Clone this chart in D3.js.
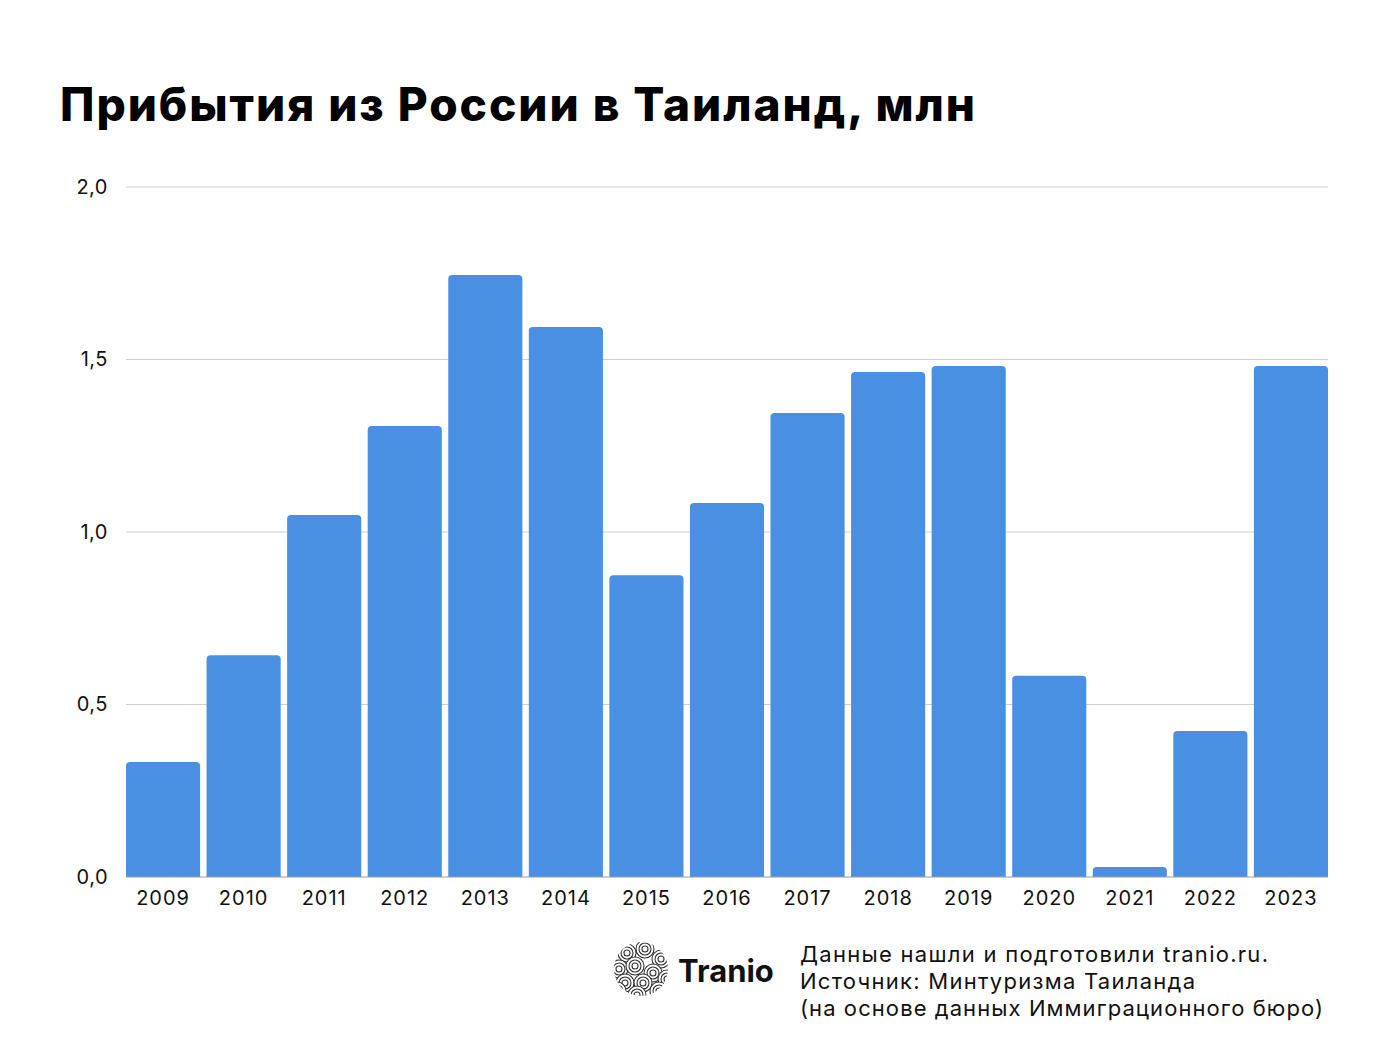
<!DOCTYPE html>
<html>
<head>
<meta charset="utf-8">
<script src="https://cdn.jsdelivr.net/npm/d3@7"></script>
<style>
  body { margin: 0; background: #fff; }
  text { font-family: "Inter", "Noto Sans", sans-serif; }
</style>
</head>
<body>
<script>
const years = ["2009","2010","2011","2012","2013","2014","2015","2016","2017","2018","2019","2020","2021","2022","2023"];
const arrivals = [0.333, 0.643, 1.049, 1.307, 1.745, 1.594, 0.875, 1.084, 1.345, 1.464, 1.481, 0.583, 0.029, 0.423, 1.481];
const yTicks = [0, 0.5, 1.0, 1.5, 2.0];
const footerLines = ["Данные нашли и подготовили tranio.ru.", "Источник: Минтуризма Таиланда", "(на основе данных Иммиграционного бюро)"];
const footerWidths = [468, 395, 523];

const width = 1386, height = 1040;
const margin = {top: 187, right: 58, bottom: 163, left: 126};

const svg = d3.select("body").append("svg")
    .attr("width", width)
    .attr("height", height);

const x = d3.scaleBand()
    .domain(years)
    .range([margin.left, width - margin.right])
    .paddingInner(0.08)
    .paddingOuter(0);

const y = d3.scaleLinear()
    .domain([0, 2])
    .range([height - margin.bottom, margin.top]);

// title
svg.append("text")
    .attr("x", 60).attr("y", 121)
    .attr("textLength", 915)
    .attr("lengthAdjust", "spacing")
    .style("font-size", "46px")
    .style("font-weight", 800)
    .style("fill", "#000")
    .text("Прибытия из России в Таиланд, млн");

// grid
svg.append("g")
    .selectAll("line")
    .data(yTicks.filter(d => d > 0))
    .join("line")
    .attr("x1", margin.left).attr("x2", width - margin.right)
    .attr("y1", d => y(d)).attr("y2", d => y(d))
    .attr("stroke", "#cfcfcf")
    .attr("stroke-width", 1);

// y labels
const yAxis = g => g
    .attr("transform", `translate(${margin.left},0)`)
    .call(d3.axisLeft(y).tickValues(yTicks).tickSize(0).tickPadding(18)
        .tickFormat(d => d3.format(".1f")(d).replace(".", ",")))
    .call(g => g.select(".domain").remove())
    .call(g => g.selectAll("text").style("font-size", "20px").style("fill", "#111")
        .style("letter-spacing", "0.5px")
        .style("font-family", "Inter, 'Noto Sans', sans-serif"));
svg.append("g").call(yAxis);

// bars with rounded tops
const r = 4;
svg.append("g")
    .selectAll("path")
    .data(years.map((d, i) => ({year: d, value: arrivals[i]})))
    .join("path")
    .attr("fill", "#4a90e2")
    .attr("d", d => {
      const x0 = x(d.year), x1 = x0 + x.bandwidth();
      const y0 = y(0), y1 = y(d.value);
      const rr = Math.min(r, (y0 - y1));
      return `M${x0},${y0}V${y1 + rr}Q${x0},${y1} ${x0 + rr},${y1}H${x1 - rr}Q${x1},${y1} ${x1},${y1 + rr}V${y0}Z`;
    });

// baseline
svg.append("line")
    .attr("x1", margin.left).attr("x2", width - margin.right)
    .attr("y1", y(0)).attr("y2", y(0))
    .attr("stroke", "#9a9a9a")
    .attr("stroke-width", 1);

// x labels
const xAxis = g => g
    .attr("transform", `translate(0,${y(0)})`)
    .call(d3.axisBottom(x).tickSize(0).tickPadding(14))
    .call(g => g.select(".domain").remove())
    .call(g => g.selectAll("text").style("font-size", "20px").style("fill", "#111")
        .style("letter-spacing", "1px")
        .style("font-family", "Inter, 'Noto Sans', sans-serif"));
svg.append("g").call(xAxis);

// logo
const logo = svg.append("g").attr("transform", "translate(641,969)");
svg.append("clipPath").attr("id", "logoClip")
    .append("circle").attr("r", 27);
const lg = logo.append("g").attr("clip-path", "url(#logoClip)");
lg.append("circle").attr("r", 27).attr("fill", "#fff");
const swirlCenters = [[-14,-16],[4,-20],[20,-10],[-22,0],[-6,-3],[12,4],[26,10],[-16,14],[2,14],[18,22],[-4,26],[-24,22]];
swirlCenters.forEach(c => {
  [9, 6, 3].forEach((rad, k) => {
    lg.append("circle")
      .attr("cx", c[0]).attr("cy", c[1]).attr("r", rad)
      .attr("fill", k === 0 ? "#fff" : "none")
      .attr("stroke", "#333").attr("stroke-width", 1.1);
  });
});
svg.append("text")
    .attr("x", 678).attr("y", 982)
    .style("font-size", "31px").style("font-weight", 700)
    .style("fill", "#111")
    .text("Tranio");

// footer
svg.append("g")
    .selectAll("text")
    .data(footerLines)
    .join("text")
    .attr("x", 800)
    .attr("y", (d, i) => 962 + i * 27)
    .attr("textLength", (d, i) => footerWidths[i])
    .attr("lengthAdjust", "spacing")
    .style("font-size", "22px")
    .style("fill", "#111")
    .text(d => d);
</script>
</body>
</html>
